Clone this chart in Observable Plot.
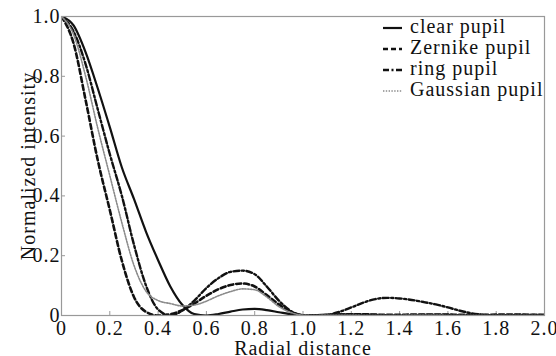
<!DOCTYPE html>
<html>
<head>
<meta charset="utf-8">
<script src="https://cdn.jsdelivr.net/npm/d3@7"></script>
<script src="https://cdn.jsdelivr.net/npm/@observablehq/plot@0.6"></script>
<style>
  html, body { margin: 0; padding: 0; background: #fff; }
  #chart { width: 556px; height: 356px; }
  #chart svg, #chart svg text, #chart svg tspan {
    font-family: "Liberation Serif", serif !important;
    letter-spacing: 1px;
  }
</style>
</head>
<body>
<div id="chart"></div>
<script>
// ---- data ----
const radial = [0.00,0.05,0.10,0.15,0.20,0.25,0.30,0.35,0.40,0.45,0.50,0.55,0.60,0.65,0.70,0.75,0.80,0.85,0.90,0.95,
                1.00,1.05,1.10,1.15,1.20,1.25,1.30,1.35,1.40,1.45,1.50,1.55,1.60,1.65,1.70,1.75,1.80,1.85,1.90,1.95,2.00];

const clearPupil = [1.000,0.970,0.880,0.760,0.630,0.495,0.390,0.280,0.185,0.098,0.036,0.005,0.000,0.005,0.013,0.020,0.022,0.018,0.011,0.004,
                    0.000,0.001,0.003,0.004,0.004,0.003,0.002,0.001,0.000,0.001,0.002,0.002,0.002,0.001,0.000,0.001,0.001,0.001,0.001,0.000,0.000];

const zernikePupil = [1.000,0.910,0.720,0.520,0.353,0.183,0.062,0.012,0.000,0.004,0.018,0.040,0.066,0.088,0.102,0.107,0.097,0.068,0.037,0.012,
                      0.001,0.000,0.001,0.003,0.004,0.004,0.003,0.002,0.002,0.003,0.003,0.003,0.003,0.002,0.002,0.002,0.003,0.003,0.003,0.002,0.002];

const ringPupil = [1.000,0.950,0.840,0.690,0.540,0.400,0.237,0.100,0.020,0.000,0.016,0.050,0.092,0.125,0.146,0.150,0.138,0.097,0.050,0.015,
                   0.001,0.000,0.002,0.012,0.027,0.043,0.055,0.059,0.057,0.052,0.045,0.037,0.027,0.016,0.007,0.002,0.000,0.001,0.002,0.002,0.001];

const gaussianPupil = [1.000,0.940,0.800,0.627,0.468,0.310,0.168,0.081,0.050,0.040,0.032,0.035,0.048,0.066,0.080,0.089,0.086,0.062,0.030,0.010,
                       0.001,0.000,0.001,0.001,0.001,0.000,0.000,0.000,0.000,0.001,0.001,0.001,0.000,0.000,0.000,0.000,0.000,0.000,0.000,0.000,0.000];

const seriesNames = ["clear pupil", "Zernike pupil", "ring pupil", "Gaussian pupil"];
const xTicks = [0, 0.2, 0.4, 0.6, 0.8, 1.0, 1.2, 1.4, 1.6, 1.8, 2.0];
const yTicks = [0, 0.2, 0.4, 0.6, 0.8, 1.0];
const xLabel = "Radial distance";
const yLabel = "Normalized intensity";

// ---- styles ----
const serif = "Liberation Serif";
const styles = {
  "clear pupil":    {stroke: "#111", strokeWidth: 2.2, dash: null},
  "Zernike pupil":  {stroke: "#111", strokeWidth: 2.6, dash: "5,3"},
  "ring pupil":     {stroke: "#111", strokeWidth: 2.4, dash: "6,2.5,2,2.5"},
  "Gaussian pupil": {stroke: "#8a8a8a", strokeWidth: 1.6, dash: "1.4,1.4"}
};

const seriesValues = [clearPupil, zernikePupil, ringPupil, gaussianPupil];
const rows = seriesNames.map((name, i) => radial.map((r, j) => ({r, v: seriesValues[i][j], name})));

const fmt = d => d === 0 ? "0" : d.toFixed(1);

const lineMarks = seriesNames.map((name, i) => Plot.line(rows[i], {
  x: "r", y: "v",
  stroke: styles[name].stroke,
  strokeWidth: styles[name].strokeWidth,
  strokeDasharray: styles[name].dash,
  curve: "monotone-x",
  clip: true
}));

const chart = Plot.plot({
  width: 556,
  height: 356,
  marginLeft: 61,
  marginRight: 12,
  marginTop: 16,
  marginBottom: 41,
  style: {fontFamily: serif, fontSize: "20px", background: "#fff", color: "#111"},
  x: {domain: [0, 2]},
  y: {domain: [0, 1]},
  marks: [
    Plot.axisX({ticks: xTicks, tickFormat: fmt, tickSize: -4, tickPadding: 9, stroke: "#999",
                fontFamily: serif, fontSize: 20,
                label: xLabel, labelAnchor: "center", labelOffset: 39, labelArrow: "none"}),
    Plot.axisY({ticks: yTicks, tickFormat: fmt, tickSize: -4, tickPadding: 5, stroke: "#999",
                fontFamily: serif, fontSize: 20,
                label: yLabel, labelAnchor: "center", labelOffset: 41, labelArrow: "none"}),
    ...lineMarks,
    Plot.frame({stroke: "#999", strokeWidth: 1.2})
  ]
});

document.getElementById("chart").appendChild(chart);

// ---- legend (top right, inside frame) ----
const svg = d3.select(chart);
const lg = svg.append("g").attr("font-size", 20).attr("text-anchor", "start").attr("font-family", serif);
seriesNames.forEach((name, i) => {
  const yBase = 33 + i * 21;
  const s = styles[name];
  lg.append("line")
    .attr("x1", 383).attr("x2", 402)
    .attr("y1", yBase - 5).attr("y2", yBase - 5)
    .attr("stroke", s.stroke)
    .attr("stroke-width", s.strokeWidth)
    .attr("stroke-dasharray", s.dash);
  lg.append("text")
    .attr("x", 410).attr("y", yBase)
    .attr("fill", "#111")
    .text(name);
});
</script>
</body>
</html>
